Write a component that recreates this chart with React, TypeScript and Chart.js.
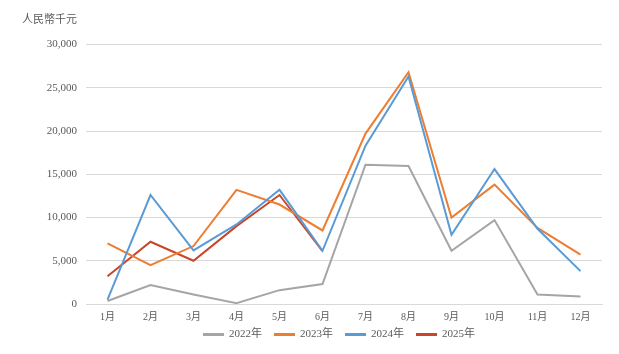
import React, { useEffect, useRef } from "react";
import { Chart, registerables } from "chart.js";

Chart.register(...registerables);

const months = ["1月", "2月", "3月", "4月", "5月", "6月", "7月", "8月", "9月", "10月", "11月", "12月"];
const s2022 = [350, 2200, 1100, 100, 1600, 2300, 16100, 15950, 6150, 9700, 1100, 870];
const s2023 = [7000, 4500, 6700, 13200, 11500, 8500, 19700, 26800, 10000, 13800, 8800, 5700];
const s2024 = [500, 12600, 6200, 9200, 13200, 6150, 18300, 26300, 8000, 15600, 8700, 3800];
const s2025 = [3200, 7200, 5000, 9000, 12600, 6100, null, null, null, null, null, null];
const seriesNames = ["2022年", "2023年", "2024年", "2025年"];
const yTitle = "人民幣千元";

const FONT = "'Liberation Serif', 'Noto Sans CJK TC', serif";

export default function App() {
  const ref = useRef<HTMLCanvasElement | null>(null);
  useEffect(() => {
    if (!ref.current) return;
    const colors = ["#A5A5A5", "#ED7D31", "#5B9BD5", "#C8472A"];
    const data = [s2022, s2023, s2024, s2025];
    const decorPlugin = {
      id: "decor",
      afterDraw(chart: any) {
        const ctx = chart.ctx;
        ctx.save();
        ctx.fillStyle = "#595959";
        ctx.font = "11px 'Noto Sans CJK TC', sans-serif";
        ctx.textBaseline = "middle";
        ctx.textAlign = "left";
        ctx.fillText(yTitle, 22, 19);
        // legend
        ctx.font = "11px " + FONT;
        let x = 203;
        const y = 334.5;
        seriesNames.forEach((name, i) => {
          ctx.strokeStyle = colors[i];
          ctx.lineWidth = 3;
          ctx.beginPath();
          ctx.moveTo(x, y);
          ctx.lineTo(x + 21, y);
          ctx.stroke();
          ctx.fillStyle = "#595959";
          ctx.fillText(name, x + 26, y);
          x += 26 + ctx.measureText(name).width + 12;
        });
        ctx.restore();
      },
    };
    const chart = new Chart(ref.current, {
      type: "line",
      data: {
        labels: months,
        datasets: data.map((d, i) => ({
          label: seriesNames[i],
          data: d,
          borderColor: colors[i],
          backgroundColor: colors[i],
          borderWidth: 2,
          pointRadius: 0,
          tension: 0,
          fill: false,
          order: i === 3 ? 5 : 4 - i,
        })),
      },
      options: {
        responsive: false,
        animation: false,
        maintainAspectRatio: false,
        layout: { padding: { top: 44.5, right: 17, left: 0, bottom: 30 } },
        plugins: {
          tooltip: { enabled: false },
          title: { display: false },
          legend: { display: false },
        },
        scales: {
          x: {
            offset: true,
            grid: { display: false, drawTicks: false },
            border: { display: true, color: "#D9D9D9", width: 1 },
            ticks: { color: "#595959", font: { family: FONT, size: 10 }, padding: 7, maxRotation: 0, autoSkip: false },
            afterFit: (scale: any) => {
              scale.height = 20;
            },
          },
          y: {
            min: 0,
            max: 30000,
            grid: { color: "#D9D9D9", drawTicks: false, lineWidth: 1 },
            border: { display: false },
            ticks: {
              stepSize: 5000,
              color: "#595959",
              font: { family: FONT, size: 11 },
              padding: 9,
              callback: (v: any) => Number(v).toLocaleString("en-US"),
            },
            afterFit: (scale: any) => {
              scale.width = 86;
            },
          },
        },
      },
      plugins: [decorPlugin],
    });
    return () => chart.destroy();
  }, []);
  return (
    <div style={{ position: "fixed", left: 0, top: 0, width: 619, height: 354, background: "#fff" }}>
      <canvas ref={ref} width={619} height={354} style={{ width: 619, height: 354 }} />
    </div>
  );
}
